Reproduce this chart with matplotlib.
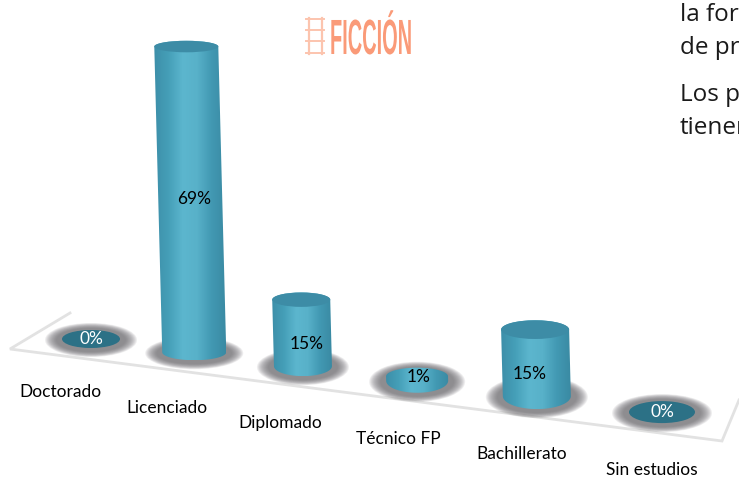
import numpy as np
import matplotlib
matplotlib.use("Agg")
import matplotlib.pyplot as plt
import matplotlib.patheffects as pe
from matplotlib.patches import Ellipse, Polygon
from matplotlib.colors import LinearSegmentedColormap
from matplotlib.transforms import Affine2D

#Datos
categorias = ["Doctorado", "Licenciado", "Diplomado", "Técnico FP", "Bachillerato", "Sin estudios"]
valores = [0, 69, 15, 1, 15, 0]
etiquetas = ["0%", "69%", "15%", "1%", "15%", "0%"]

#Layout del piso en perspectiva (pixeles)
px_por_pct = 4.43
radio_x = [29, 32, 29, 31, 34, 33]
radio_y = [9, 8, 10, 12, 13, 11]
lift_label = [0, 0.5, 0.33, 0.2, 0.33, 0]
dx_label = [0, 0, 4, 1, -7, 0]

def t_curva(i):
    t = i / 5
    return t - 0.12 * t * (1 - t)

def base(i): #Centro de la base de cada cilindro
    x = 91 + 571 * t_curva(i)
    y = 339 + 0.128 * (x - 91)
    return x, y

class Angosto(pe.AbstractPathEffect): #Angosta el texto en horizontal, sigue siendo texto
    def __init__(self, x0, sx):
        super().__init__()
        self.x0 = x0
        self.sx = sx
    def draw_path(self, renderer, gc, tpath, affine, rgbFace=None):
        t = affine + Affine2D().translate(-self.x0, 0).scale(self.sx, 1).translate(self.x0, 0)
        renderer.draw_path(gc, tpath, t, rgbFace)

fig = plt.figure(figsize=(7.39, 4.8), dpi=100)
ax = fig.add_axes([0, 0, 1, 1])
cmap = LinearSegmentedColormap.from_list("cil", ["#3d8fa9", "#459fb8", "#5cb6ce", "#58b1c9", "#4299b3", "#3a8aa3"])
grad = np.linspace(0, 1, 128).reshape(1, -1)

#Piso
ax.plot([70, 10, 722, 739], [313, 349, 441, 400], color="#e2e2e2", lw=2, solid_joinstyle="miter", zorder=1)

for i, v in enumerate(valores):
    x, y = base(i)
    h = v * px_por_pct
    rx = radio_x[i]
    ry = radio_y[i]

    #Sombra difusa
    for k in np.linspace(1, 0, 12):
        ax.add_patch(Ellipse((x, y + 1), 2 * (rx + 6 + 11 * k), 2 * (ry + 3 + 5 * k),
                             color="#6e6c70", alpha=0.11, lw=0, zorder=2))

    if v == 0:
        ax.add_patch(Ellipse((x, y), 2 * rx, 2 * ry, color="#2c7186", lw=0, zorder=3))
    else:
        xt = x - 0.026 * h
        yt = y - h
        ryt = ry * 0.72
        a = np.linspace(0, np.pi, 60)
        abajo = np.column_stack([x + rx * np.cos(a), y + ry * np.sin(a)])
        a2 = np.linspace(np.pi, 2 * np.pi, 60)
        arriba = np.column_stack([xt + rx * np.cos(a2), yt + ryt * np.sin(a2)])
        cuerpo = Polygon(np.vstack([abajo, arriba]), closed=True, transform=ax.transData, fc="none", lw=0)
        ax.add_patch(cuerpo)
        im = ax.imshow(grad, cmap=cmap, extent=[xt - rx, x + rx, y + ry, yt - ryt], aspect="auto", zorder=3)
        im.set_clip_path(cuerpo)
        if v > 1:
            ax.add_patch(Ellipse((xt, yt), 2 * rx, 2 * ryt, color="#3d8ca6", lw=0, zorder=4))

    col = "white" if v == 0 else "black"
    ax.text(x + dx_label[i], y - lift_label[i] * h - (3 if v == 1 else 0), etiquetas[i], color=col, family="Lato",
            fontsize=12.5, ha="center", va="center", zorder=5)
    ax.text(60.5 + 591 * t_curva(i), 392 + 15.6 * i, categorias[i], color="black", family="Lato",
            fontsize=12.5, ha="center", va="center", zorder=5)

#Titulo con icono de escalera
ax.text(330, 54, "FICCIÓN", color="#fa9a78", family="Liberation Sans", weight="bold",
        fontsize=35.6, ha="left", va="baseline", zorder=5, path_effects=[Angosto(330, 0.404)])
ax.plot([308.5, 308.5], [18, 54], color="#fcc4ae", lw=1.6)
ax.plot([321.5, 321.5], [18, 54], color="#fcc4ae", lw=1.6)
for yr in [19, 30, 41, 53]:
    ax.plot([306, 324], [yr, yr], color="#fcc4ae", lw=1.4)

#Texto de la pagina, cortado por el borde
for txt, yy in [("la for", 15), ("de pr", 48), ("Los p", 95), ("tienen", 128)]:
    ax.text(680, yy, txt, color="#1a1a1a", family="Open Sans", fontsize=17.5, ha="left", va="center")

ax.set_xlim(0, 739)
ax.set_ylim(480, 0)
ax.axis("off")
fig.savefig("out.png", dpi=100)
